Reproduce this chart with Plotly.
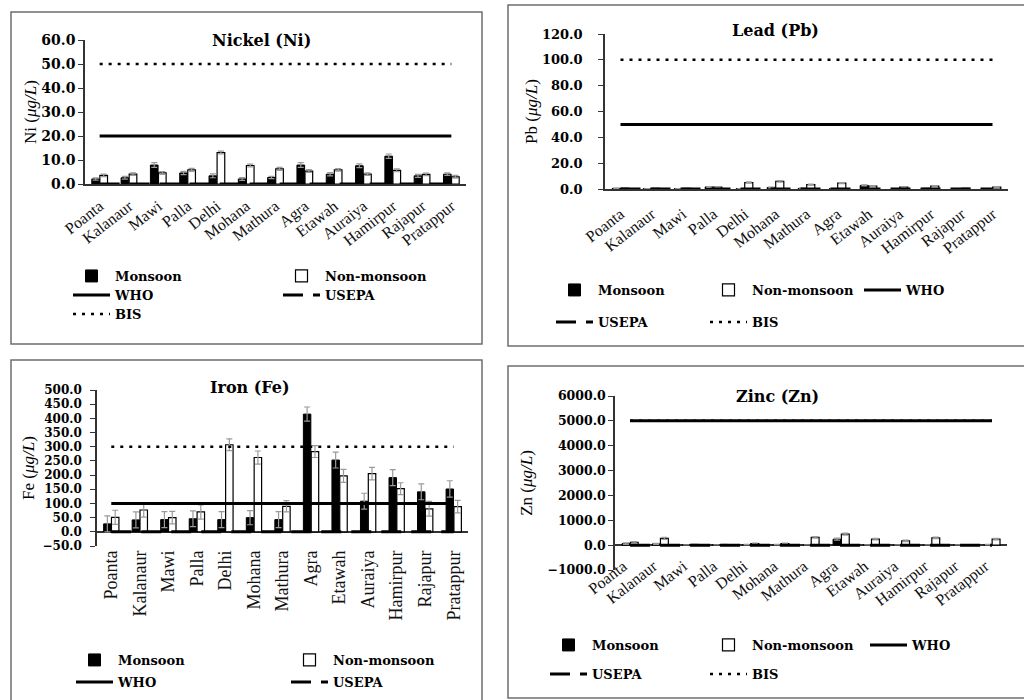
import plotly.graph_objects as go

# Sampling sites along the river, upstream to downstream
SITES = ["Poanta", "Kalanaur", "Mawi", "Palla", "Delhi", "Mohana", "Mathura",
         "Agra", "Etawah", "Auraiya", "Hamirpur", "Rajapur", "Pratappur"]

# Nickel (µg/L)
NI_MONSOON = [2.1, 2.6, 7.9, 4.6, 3.4, 2.1, 2.7, 7.9, 4.1, 7.6, 11.6, 3.4, 4.1]
NI_NON_MONSOON = [3.6, 4.1, 4.6, 5.9, 13.1, 7.7, 6.3, 5.4, 5.9, 4.1, 5.7, 4.0, 3.0]
NI_MONSOON_SD = [0.5, 0.6, 1.0, 0.7, 0.8, 0.6, 0.5, 1.0, 0.7, 0.8, 0.9, 0.6, 0.5]
NI_NON_MONSOON_SD = [0.5, 0.5, 0.6, 0.6, 0.6, 0.6, 0.6, 0.6, 0.5, 0.5, 0.6, 0.5, 0.6]
NI_WHO, NI_USEPA, NI_BIS = 20.0, 0.0, 50.0

# Lead (µg/L)
PB_MONSOON = [0.5, 0.2, 0.2, 1.6, 0.3, 1.2, 0.5, 0.2, 2.8, 0.1, 0.5, 0.3, 0.1]
PB_NON_MONSOON = [0.6, 0.5, 0.5, 1.5, 5.0, 6.0, 3.4, 4.5, 2.2, 1.5, 2.2, 0.5, 1.5]
PB_MONSOON_SD = [0.2, 0.1, 0.1, 0.3, 0.1, 0.3, 0.2, 0.1, 0.4, 0.1, 0.2, 0.1, 0.1]
PB_NON_MONSOON_SD = [0.2, 0.2, 0.2, 0.3, 0.5, 0.6, 0.4, 0.4, 0.4, 0.3, 0.4, 0.2, 0.3]
PB_WHO, PB_USEPA, PB_BIS = 50.0, 0.0, 100.0

# Iron (µg/L)
FE_MONSOON = [28, 42, 43, 46, 43, 50, 43, 415, 253, 108, 191, 141, 151]
FE_NON_MONSOON = [51, 77, 50, 70, 307, 262, 90, 283, 197, 205, 152, 81, 89]
FE_MONSOON_SD = [28, 28, 28, 28, 28, 25, 28, 25, 28, 28, 28, 28, 29]
FE_NON_MONSOON_SD = [25, 25, 22, 25, 21, 23, 20, 21, 23, 22, 21, 26, 22]
FE_WHO, FE_USEPA, FE_BIS = 100.0, 0.0, 300.0

# Zinc (µg/L)
ZN_MONSOON = [60, 50, 10, 10, 20, 20, 10, 240, 10, 10, 10, 10, 20]
ZN_NON_MONSOON = [110, 270, 25, 20, 60, 60, 310, 440, 240, 175, 295, 10, 240]
ZN_MONSOON_SD = [30, 20, 5, 5, 10, 10, 5, 40, 5, 5, 5, 5, 10]
ZN_NON_MONSOON_SD = [30, 40, 10, 10, 20, 20, 30, 40, 30, 30, 30, 5, 30]
ZN_WHO, ZN_USEPA, ZN_BIS = 5000.0, 0.0, 5000.0

SERIF = "Liberation Serif, Times New Roman, serif"
SERIF_BOLD = "DejaVu Serif, Liberation Serif, serif"
W, H = 1024, 700
LEGEND_RANK = {"mon": 1, "non": 2, "who": 3, "usepa": 4, "bis": 5}
EN_SPACE = "\u2002"


def px_x(v):
    return v / W


def px_y(v):
    return 1 - v / H


panels = [
    dict(n=1, title="Nickel (Ni)", sym="Ni", title_at=(261, 40),
         mon=NI_MONSOON, non=NI_NON_MONSOON, mon_sd=NI_MONSOON_SD, non_sd=NI_NON_MONSOON_SD,
         who=NI_WHO, usepa=NI_USEPA, bis=NI_BIS,
         yrange=[0, 60], dtick=10, xdom=(85, 466), ydom=(40, 184), label_line=None,
         tickangle=-38, standoff=5, shift=0, tickfont=14, catfont=16,
         ytick_pad=0, title_standoff=0,
         rows=[(["mon", "non"], 276), (["who", "usepa"], 295), (["bis"], 314)],
         leg_text_x=115, leg_step=210, box=(11, 12, 482, 344)),
    dict(n=2, title="Lead (Pb)", sym="Pb", title_at=(775, 31),
         mon=PB_MONSOON, non=PB_NON_MONSOON, mon_sd=PB_MONSOON_SD, non_sd=PB_NON_MONSOON_SD,
         who=PB_WHO, usepa=PB_USEPA, bis=PB_BIS,
         yrange=[0, 120], dtick=20, xdom=(605, 1008), ydom=(34, 189), label_line=None,
         tickangle=-38, standoff=8, shift=0, tickfont=13, catfont=16,
         ytick_pad=2, title_standoff=0,
         rows=[(["mon", "non", "who"], 290), (["usepa", "bis"], 322)],
         leg_text_x=598, leg_step=154, box=(508, 5, 1030, 346)),
    dict(n=3, title="Iron (Fe)", sym="Fe", title_at=(250, 387),
         mon=FE_MONSOON, non=FE_NON_MONSOON, mon_sd=FE_MONSOON_SD, non_sd=FE_NON_MONSOON_SD,
         who=FE_WHO, usepa=FE_USEPA, bis=FE_BIS,
         yrange=[-50, 500], dtick=50, xdom=(97, 468), ydom=(390, 546), label_line=None,
         tickangle=-90, standoff=0, shift=0, tickfont=12, catfont=18,
         ytick_pad=1, title_standoff=4,
         rows=[(["mon", "non"], 660), (["who", "usepa"], 682)],
         leg_text_x=118, leg_step=215, box=(11, 360, 482, 710)),
    dict(n=4, title="Zinc (Zn)", sym="Zn", title_at=(777, 396),
         mon=ZN_MONSOON, non=ZN_NON_MONSOON, mon_sd=ZN_MONSOON_SD, non_sd=ZN_NON_MONSOON_SD,
         who=ZN_WHO, usepa=ZN_USEPA, bis=ZN_BIS,
         yrange=[-1000, 6000], dtick=1000, xdom=(615, 1007), ydom=(396, 570), label_line=543,
         tickangle=-38, standoff=10, shift=-7, tickfont=12.5, catfont=16,
         ytick_pad=0, title_standoff=10,
         rows=[(["mon", "non", "who"], 645), (["usepa", "bis"], 674)],
         leg_text_x=592, leg_step=160, box=(508, 366, 1030, 698)),
]

fig = go.Figure()
layout = dict(
    width=W, height=H, margin=dict(l=0, r=0, t=0, b=0, autoexpand=False),
    paper_bgcolor="white", plot_bgcolor="white",
    barmode="group", bargap=0.45, bargroupgap=0.05,
    font=dict(family=SERIF, color="black"),
    shapes=[], annotations=[],
)

legend_count = 0
for p in panels:
    n = p["n"]
    xa, ya = ("x" if n == 1 else f"x{n}"), ("y" if n == 1 else f"y{n}")

    # one legend per legend row of this panel
    legend_of = {}
    for keys, row_y in p["rows"]:
        legend_count += 1
        lname = "legend" if legend_count == 1 else f"legend{legend_count}"
        for k in keys:
            legend_of[k] = lname
        layout[lname] = dict(
            x=px_x(p["leg_text_x"] - 47), y=px_y(row_y), xanchor="left", yanchor="middle",
            orientation="h", entrywidth=p["leg_step"] - 52, itemwidth=37,
            bgcolor="rgba(0,0,0,0)", borderwidth=0,
            font=dict(family=SERIF_BOLD, size=13, color="black", weight="bold"),
            tracegroupgap=0,
        )

    def leg(k):
        base = dict(legendrank=LEGEND_RANK[k])
        if k in legend_of:
            base.update(legend=legend_of[k], showlegend=True)
        else:
            base.update(showlegend=False)
        return base

    err_style = dict(type="data", color="#9a9a9a", thickness=1.2, width=3)
    fig.add_trace(go.Bar(
        x=SITES, y=p["mon"], name="Monsoon", xaxis=xa, yaxis=ya,
        marker=dict(color="black", line=dict(color="black", width=1)),
        error_y=dict(array=p["mon_sd"], **err_style), **leg("mon")))
    fig.add_trace(go.Bar(
        x=SITES, y=p["non"], name="Non-monsoon", xaxis=xa, yaxis=ya,
        marker=dict(color="white", line=dict(color="black", width=1.2)),
        error_y=dict(array=p["non_sd"], **err_style), **leg("non")))

    # guideline values, one point per site
    fig.add_trace(go.Scatter(
        x=SITES, y=[p["bis"]] * len(SITES), name="BIS", mode="lines", xaxis=xa, yaxis=ya,
        line=dict(color="black", width=2.5, dash="3px,6px"), **leg("bis")))
    fig.add_trace(go.Scatter(
        x=SITES, y=[p["usepa"]] * len(SITES), name="USEPA", mode="lines", xaxis=xa, yaxis=ya,
        line=dict(color="black", width=3, dash="20px,10px"), **leg("usepa")))
    fig.add_trace(go.Scatter(
        x=SITES, y=[p["who"]] * len(SITES), name="WHO", mode="lines", xaxis=xa, yaxis=ya,
        line=dict(color="black", width=3), **leg("who")))

    has_negative = p["yrange"][0] < 0
    xaxis = dict(
        domain=[px_x(p["xdom"][0]), px_x(p["xdom"][1])], anchor=ya,
        showline=not has_negative, linecolor="#333", linewidth=1.5,
        ticks="", tickangle=p["tickangle"], ticklabelstandoff=p["standoff"],
        ticklabelshift=p["shift"],
        tickfont=dict(family=SERIF, size=p["catfont"], color="#111"),
        showgrid=False, zeroline=False, automargin=False,
    )
    if p["label_line"] is not None:
        # category labels sit next to the zero line rather than the plot bottom
        xaxis.update(anchor="free", position=px_y(p["label_line"]))
    layout["xaxis" if n == 1 else f"xaxis{n}"] = xaxis
    layout["yaxis" if n == 1 else f"yaxis{n}"] = dict(
        domain=[px_y(p["ydom"][1]), px_y(p["ydom"][0])], anchor=xa,
        range=p["yrange"], dtick=p["dtick"], tick0=0, tickformat=".1f",
        ticksuffix=EN_SPACE * p["ytick_pad"],
        showline=True, linecolor="#333", linewidth=1.5,
        ticks="outside", ticklen=5, tickcolor="#333", automargin=False,
        tickfont=dict(family=SERIF_BOLD, size=p["tickfont"], color="black", weight="bold"),
        showgrid=False, zeroline=has_negative, zerolinecolor="#333", zerolinewidth=1.5,
        title=dict(text=f"{p['sym']} (<i>μg/L</i>)", standoff=p["title_standoff"],
                   font=dict(family=SERIF, size=17, color="black")),
    )

    tx, ty = p["title_at"]
    layout["annotations"].append(dict(
        text=f"<b>{p['title']}</b>", x=px_x(tx), y=px_y(ty), xref="paper", yref="paper",
        xanchor="center", yanchor="middle", showarrow=False,
        font=dict(family=SERIF_BOLD, size=16, color="black")))

    x0, y0, x1, y1 = p["box"]
    layout["shapes"].append(dict(
        type="rect", xref="paper", yref="paper",
        x0=px_x(x0), x1=px_x(x1), y0=px_y(y1), y1=px_y(y0),
        line=dict(color="#6e6e6e", width=1.5), fillcolor="rgba(0,0,0,0)", layer="below"))

fig.update_layout(**layout)
fig.write_html("out.html")
